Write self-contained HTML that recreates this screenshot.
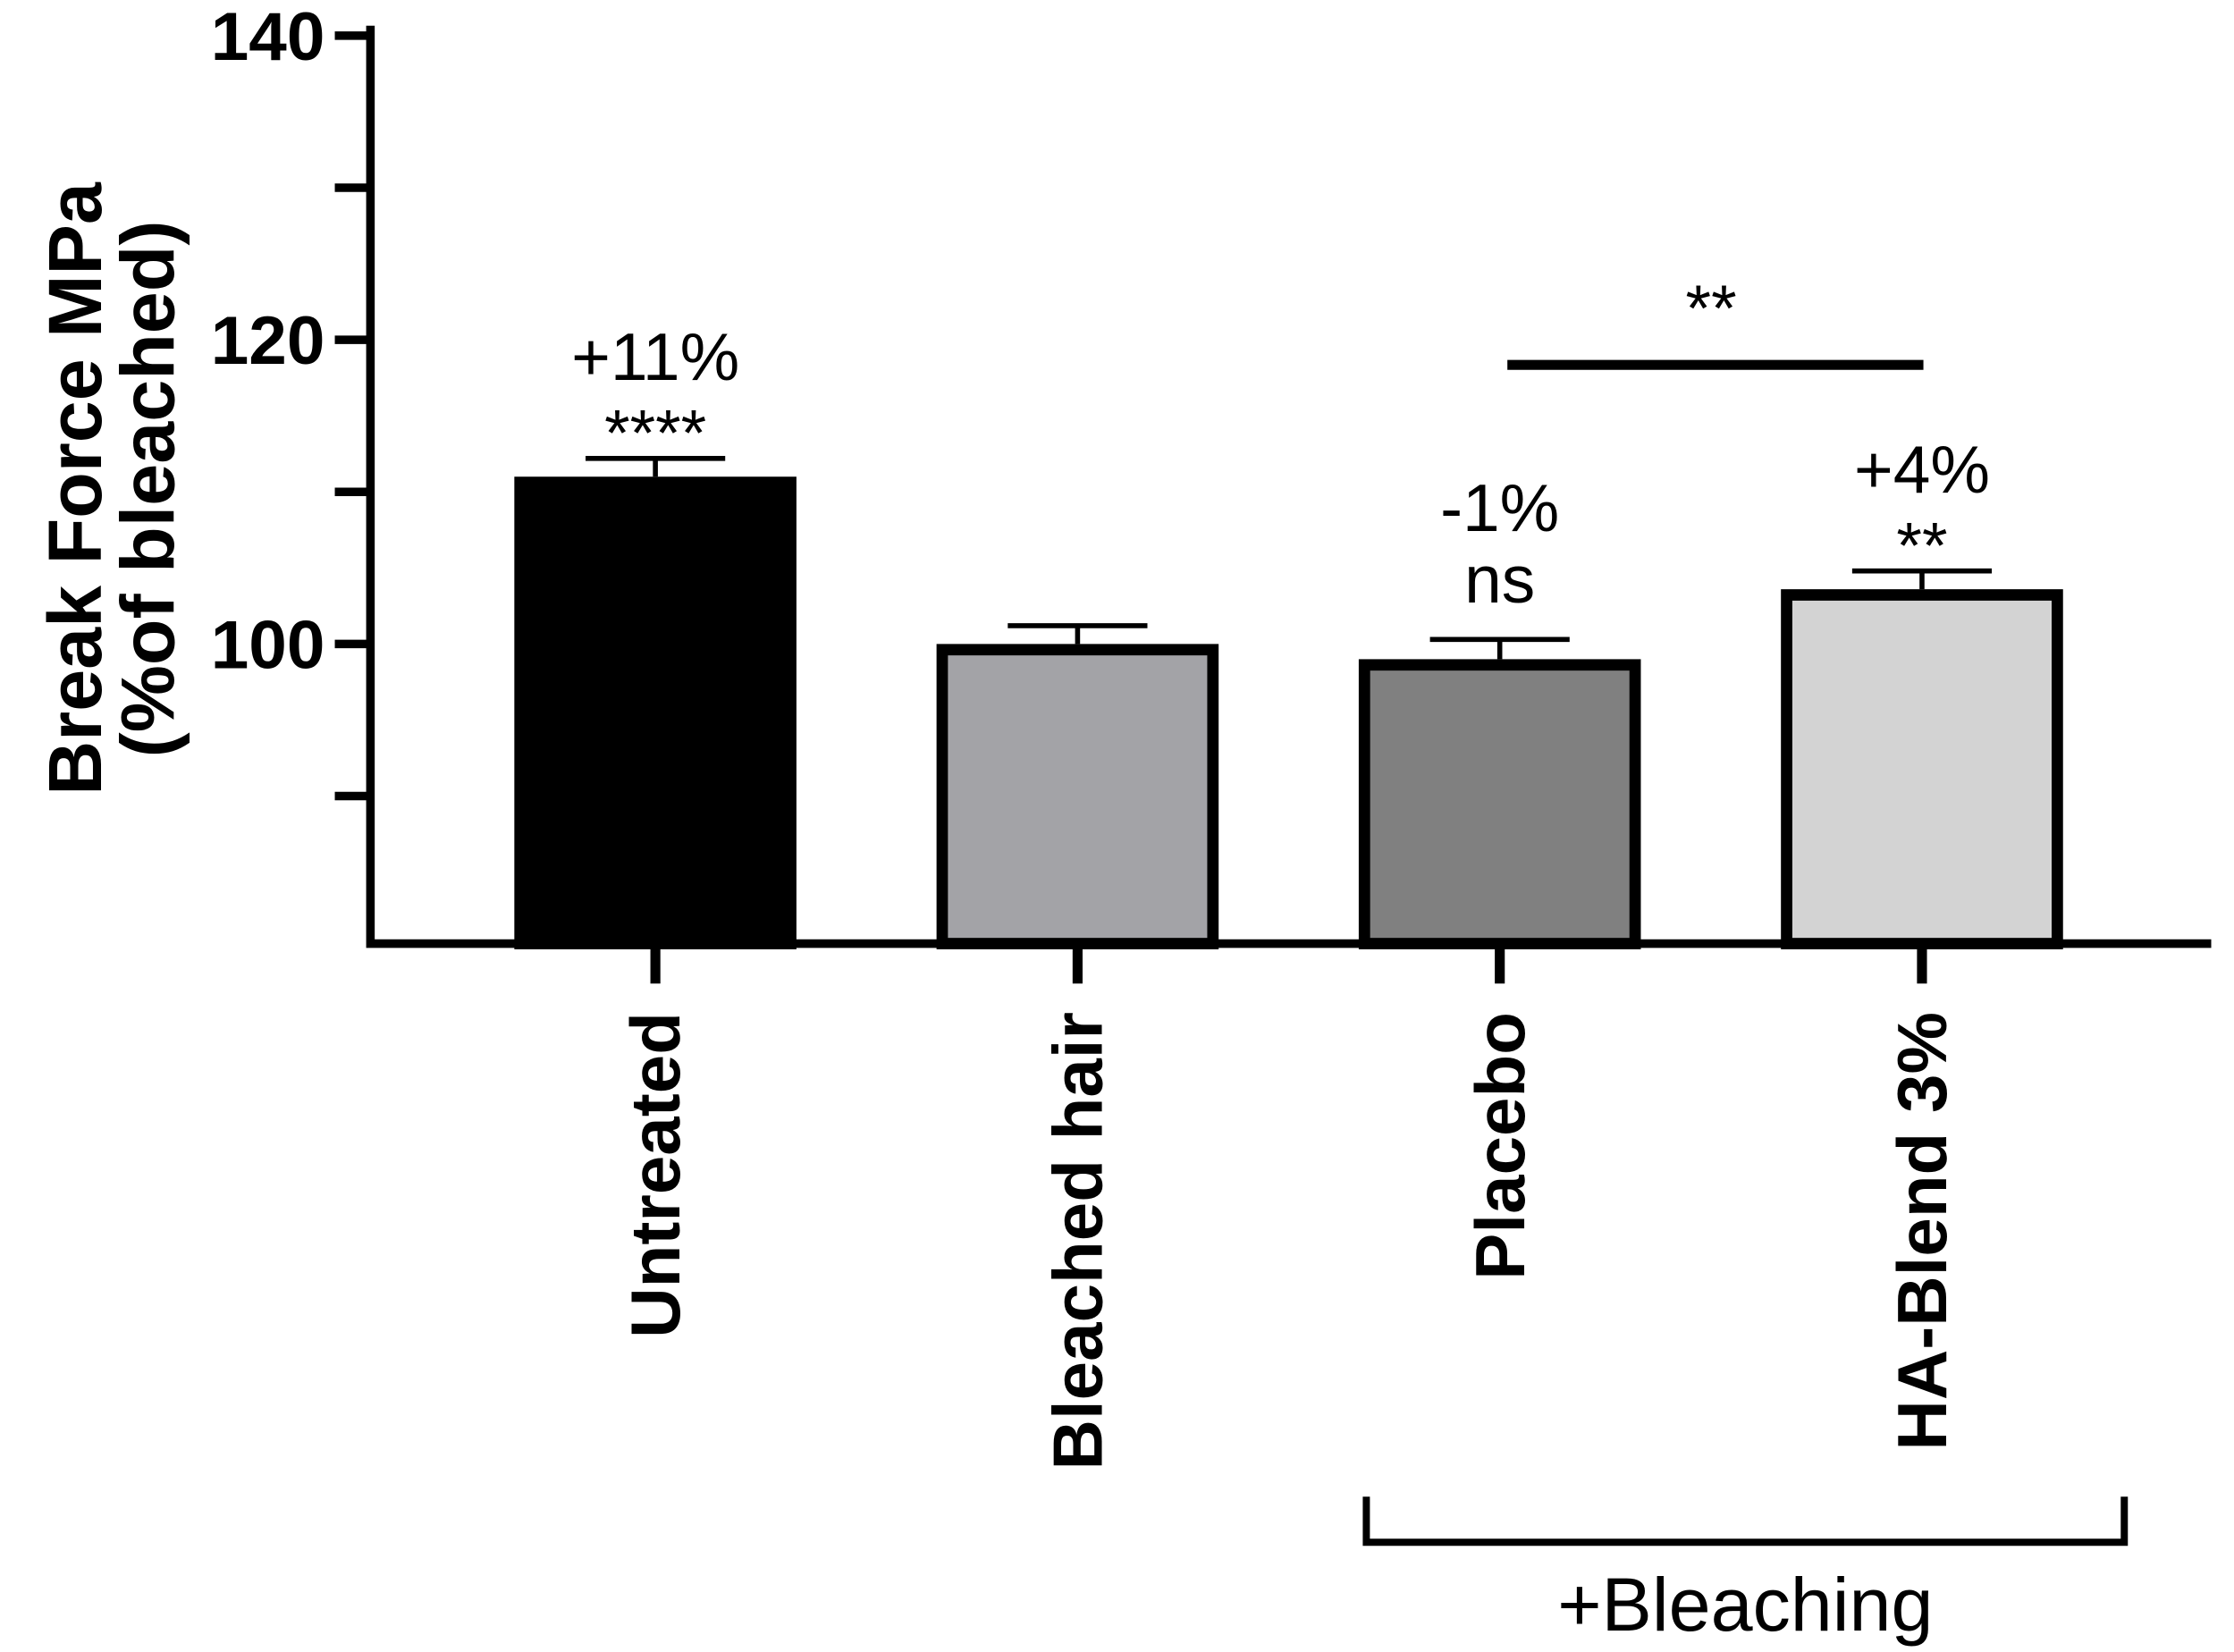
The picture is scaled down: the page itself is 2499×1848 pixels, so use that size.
<!DOCTYPE html>
<html><head><meta charset="utf-8"><style>
html,body{margin:0;padding:0;background:#fff;}
svg{display:block;font-family:"Liberation Sans",Arial,sans-serif;}
</style></head><body>
<svg id="chart" width="2499" height="1848" viewBox="0 0 1568 1159" preserveAspectRatio="none" xmlns="http://www.w3.org/2000/svg">
<g id="plot"></g>
</svg>
<script>
const categories = ["Untreated", "Bleached hair", "Placebo", "HA-Blend 3%"];
const values = [111.0, 100.0, 99.0, 103.6];
const errors = [1.2, 1.2, 1.3, 1.2];
const fills = ["#000000", "#a3a3a7", "#808080", "#d3d3d3"];
const pctLabels = ["+11%", "", "-1%", "+4%"];
const sigLabels = ["****", "", "ns", "**"];
const yTicks = [90, 100, 110, 120, 130, 140];
const yTickLabels = ["", "100", "", "120", "", "140"];

const NS = "http://www.w3.org/2000/svg";
const g = document.getElementById("plot");
const x0 = 260, x1 = 1552, yMin = 80.3, yMax = 140;
const yBase = 662, yTop = 25;
function y(v){ return yBase - (v - yMin) / (yMax - yMin) * (yBase - yTop); }
const centers0 = [460, 755, 1052, 1349];
function xc(i){ return centers0[0] + i * (centers0[3] - centers0[0]) / 3; }
const barW = 198;
const sw = 8;
function mk(tag, attrs){ const e = document.createElementNS(NS, tag); for (const k in attrs) e.setAttribute(k, attrs[k]); g.appendChild(e); return e; }

categories.forEach((c, i) => {
  const top = y(values[i]);
  const r = mk("rect", {x: xc(i) - barW/2 + sw/2, y: top + sw/2, width: barW - sw, height: yBase - top - sw/2, fill: fills[i], stroke: "#000", "stroke-width": sw});
  
  
  const ey = y(values[i] + errors[i]);
  const eb = mk("path", {d: `M${xc(i)},${top} V${ey} M${xc(i)-49},${ey} H${xc(i)+49}`, stroke: "#000", "stroke-width": 3.5, fill: "none"});
  
  
  if (pctLabels[i]) {
    const p = mk("text", {x: xc(i), y: ey - (i === 2 ? 76 : 55), "text-anchor": "middle", "font-size": 47});
    p.textContent = pctLabels[i];
    
    
    const isNs = sigLabels[i] === "ns";
    const s = mk("text", {x: xc(i), y: ey - (isNs ? 26 : 2), "text-anchor": "middle", "font-size": isNs ? 47 : 46});
    s.textContent = sigLabels[i];
    
    
  }
  const t = mk("path", {d: `M${xc(i)},${yBase} V690`, stroke: "#000", "stroke-width": 7});
  
  
  const l = mk("text", {transform: `translate(${xc(i)+17},710) rotate(-90)`, "text-anchor": "end", "font-size": 49, "font-weight": "bold"});
  l.textContent = c;
  
  
});

const ax = mk("path", {d: `M${x0},18 V${yBase} H${x1}`, stroke: "#000", "stroke-width": 6, fill: "none"});


yTicks.forEach((v, i) => {
  const t = mk("path", {d: `M235,${y(v)} H${x0}`, stroke: "#000", "stroke-width": 6});
  
  
  if (yTickLabels[i]) {
    const l = mk("text", {x: 228, y: y(v) + 17, "text-anchor": "end", "font-size": 48, "font-weight": "bold"});
    l.textContent = yTickLabels[i];
    
    
  }
});
const yt = mk("text", {"font-size": 53, "font-weight": "bold", "text-anchor": "middle"});


const ts1 = document.createElementNS(NS, "tspan"); ts1.setAttribute("x", 0); ts1.setAttribute("y", 0); ts1.textContent = "Break Force MPa"; yt.appendChild(ts1);
const ts2 = document.createElementNS(NS, "tspan"); ts2.setAttribute("x", 0); ts2.setAttribute("y", 51); ts2.textContent = "(%of bleached)"; yt.appendChild(ts2);
yt.setAttribute("transform", "translate(71,343) rotate(-90)");

const br = mk("path", {d: "M1058,256 H1350", stroke: "#000", "stroke-width": 7});


const bs = mk("text", {x: 1201, y: 232, "text-anchor": "middle", "font-size": 46});
bs.textContent = "**";



const gb = mk("path", {d: "M959,1050 V1082 H1491 V1050", stroke: "#000", "stroke-width": 5, fill: "none"});


const gl = mk("text", {x: 1225, y: 1144, "text-anchor": "middle", "font-size": 53});
gl.textContent = "+Bleaching";


</script>
</body></html>
